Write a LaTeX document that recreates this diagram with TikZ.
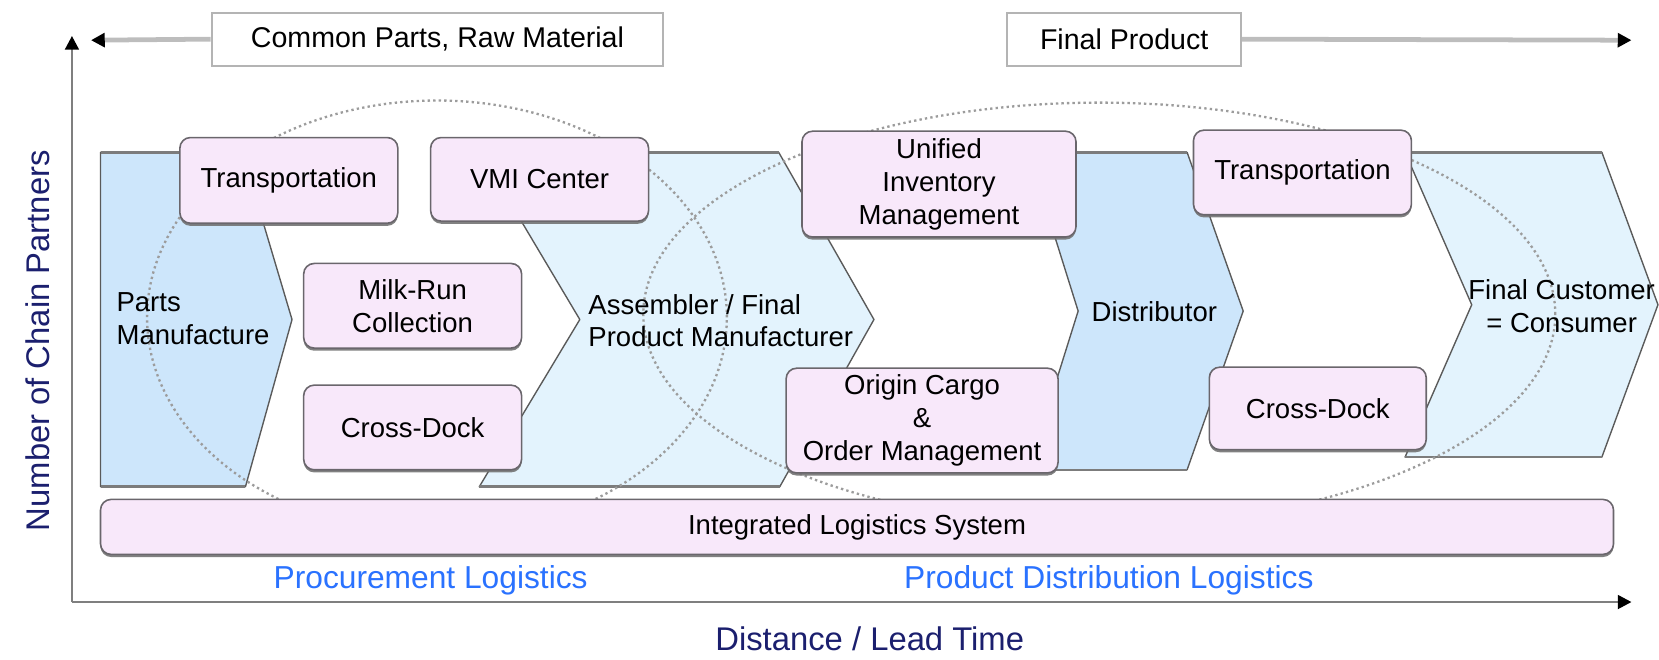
\documentclass[tikz,border=0pt]{standalone}
\usepackage{fontspec}
\setmainfont{Liberation Sans}
\usetikzlibrary{arrows.meta,shadows}
\definecolor{boxpink}{HTML}{F8E8FA}
\definecolor{boxline}{HTML}{6A666C}
\definecolor{chevdark}{HTML}{CDE6FB}
\definecolor{chevlight}{HTML}{E3F3FD}
\definecolor{chevline}{HTML}{5A5A5A}
\definecolor{chevedge}{HTML}{7C7C7C}
\definecolor{axisgray}{HTML}{7F7F7F}
\definecolor{toparrowgray}{HTML}{BDBDBD}
\definecolor{navy}{HTML}{1B1F6E}
\definecolor{logblue}{HTML}{2A72FF}
\definecolor{dotgray}{HTML}{9C9C9C}
\definecolor{topline}{HTML}{B4B4B4}
\newcommand{\dgbox}{\fontsize{26}{31}\selectfont}
\newcommand{\dgtop}{\fontsize{27}{32}\selectfont}
\newcommand{\dgblue}{\fontsize{30}{36}\selectfont}
\newcommand{\dgaxis}{\fontsize{31}{37}\selectfont}
\begin{document}
\begin{tikzpicture}[x=1pt,y=-1pt,
  pinkbox/.style={draw=boxline, line width=1.5pt, fill=boxpink, rounded corners=10pt,
    align=center, font=\dgbox, inner sep=0pt,
    drop shadow={shadow xshift=0pt, shadow yshift=-2.5pt, fill=black!55, opacity=0.9}},
  topboxstyle/.style={draw=topline, line width=2pt, fill=white, inner sep=0pt,
    font=\dgtop, minimum height=50pt},
  chevtext/.style={font=\dgbox, inner sep=0pt},
  chevoutline/.style={draw=chevline, line width=1.3pt, line join=round},
  chevtop/.style={draw=chevedge, line width=2.4pt},
  dotline/.style={draw=dotgray, line width=2.2pt, dash pattern=on 2.2pt off 3pt},
  axisline/.style={draw=axisgray, line width=2.5pt},
  toparrow/.style={draw=toparrowgray, line width=4.5pt, -{Triangle[length=13pt,width=13pt,color=black]}},
  axisarrow/.style={axisline, -{Triangle[length=13pt,width=13pt,color=black]}},
  bluelabel/.style={text=logblue, font=\dgblue, inner sep=0pt},
  axislabel/.style={text=navy, font=\dgaxis, inner sep=0pt}
]
\useasboundingbox (0,0) rectangle (1568,623);

% axes
\coordinate (origin) at (68,569);
\coordinate (ytip) at (68,34);
\coordinate (xtip) at (1542,569);
\draw[axisarrow] (origin) -- (ytip);
\draw[axisarrow] (origin) -- (xtip);

% top boxes and arrows
\node[topboxstyle, minimum width=427pt] (common) at (413.5,37) {Common Parts, Raw Material};
\node[topboxstyle, minimum width=221pt] (final) at (1062.5,37) {Final Product};
\coordinate (tl) at (86,38);
\coordinate (tr) at (1542,38);
\draw[toparrow] (common.west) -- (tl);
\draw[toparrow] (final.east) -- (tr);

% chevrons
\path[fill=chevdark, chevoutline] (95,144) -- (229,144) -- (276,302) -- (232,460) -- (95,460) -- cycle;
\path[fill=chevlight, chevoutline] (454,144) -- (736,144) -- (826,302) -- (737,460) -- (453,460) -- (548,302) -- cycle;
\path[fill=chevdark, chevoutline] (972,144) -- (1122,144) -- (1175,294) -- (1122,444) -- (972,444) -- (1019,294) -- cycle;
\path[fill=chevlight, chevoutline] (1328,144) -- (1514,144) -- (1567,288) -- (1514,432) -- (1328,432) -- (1391,288) -- cycle;
\draw[chevtop] (95,144) -- (229,144) (95,460) -- (232,460);
\draw[chevtop] (454,144) -- (736,144) (453,460) -- (737,460);
\draw[chevtop] (972,144) -- (1122,144) (972,444) -- (1122,444);
\draw[chevtop] (1328,144) -- (1514,144) (1328,432) -- (1514,432);

% dotted ellipses
\draw[dotline] (413,300) ellipse [x radius=274pt, y radius=205pt];
\draw[dotline] (1039,297) ellipse [x radius=431pt, y radius=200pt];

% chevron texts
\node[chevtext, anchor=west, align=left] (parts) at (110,301) {Parts\\Manufacture};
\node[chevtext, anchor=west, align=left] (assembler) at (556,303) {Assembler / Final\\Product Manufacturer};
\node[chevtext] (distributor) at (1091,295) {Distributor};
\node[chevtext, align=center] (customer) at (1476,289) {Final Customer\\= Consumer};

% pink boxes
\node[pinkbox, minimum width=206pt, minimum height=81pt] (trans1) at (273,170.5) {Transportation};
\node[pinkbox, minimum width=206pt, minimum height=79pt] (vmi) at (510,169.5) {VMI Center};
\node[pinkbox, minimum width=206pt, minimum height=80pt] (milk) at (390,289) {Milk-Run\\Collection};
\node[pinkbox, minimum width=206pt, minimum height=80pt] (cd1) at (390,404) {Cross-Dock};
\node[pinkbox, minimum width=259pt, minimum height=100pt] (unified) at (887.5,174) {Unified\\Inventory\\Management};
\node[pinkbox, minimum width=257pt, minimum height=99pt] (origin) at (871.5,397.5) {Origin Cargo\\\&\\Order Management};
\node[pinkbox, minimum width=206pt, minimum height=80pt] (trans2) at (1231,163) {Transportation};
\node[pinkbox, minimum width=205pt, minimum height=78pt] (cd2) at (1245.5,386) {Cross-Dock};

% integrated bar
\node[pinkbox, minimum width=1430pt, minimum height=52pt] (ils) at (810,498) {Integrated Logistics System};

% labels
\node[bluelabel] (proc) at (407,548) {Procurement Logistics};
\node[bluelabel] (dist) at (1048,548) {Product Distribution Logistics};
\node[axislabel] (xlabel) at (822,604) {Distance / Lead Time};
\node[axislabel, rotate=90] (ylabel) at (36,322) {Number of Chain Partners};
\end{tikzpicture}
\end{document}
